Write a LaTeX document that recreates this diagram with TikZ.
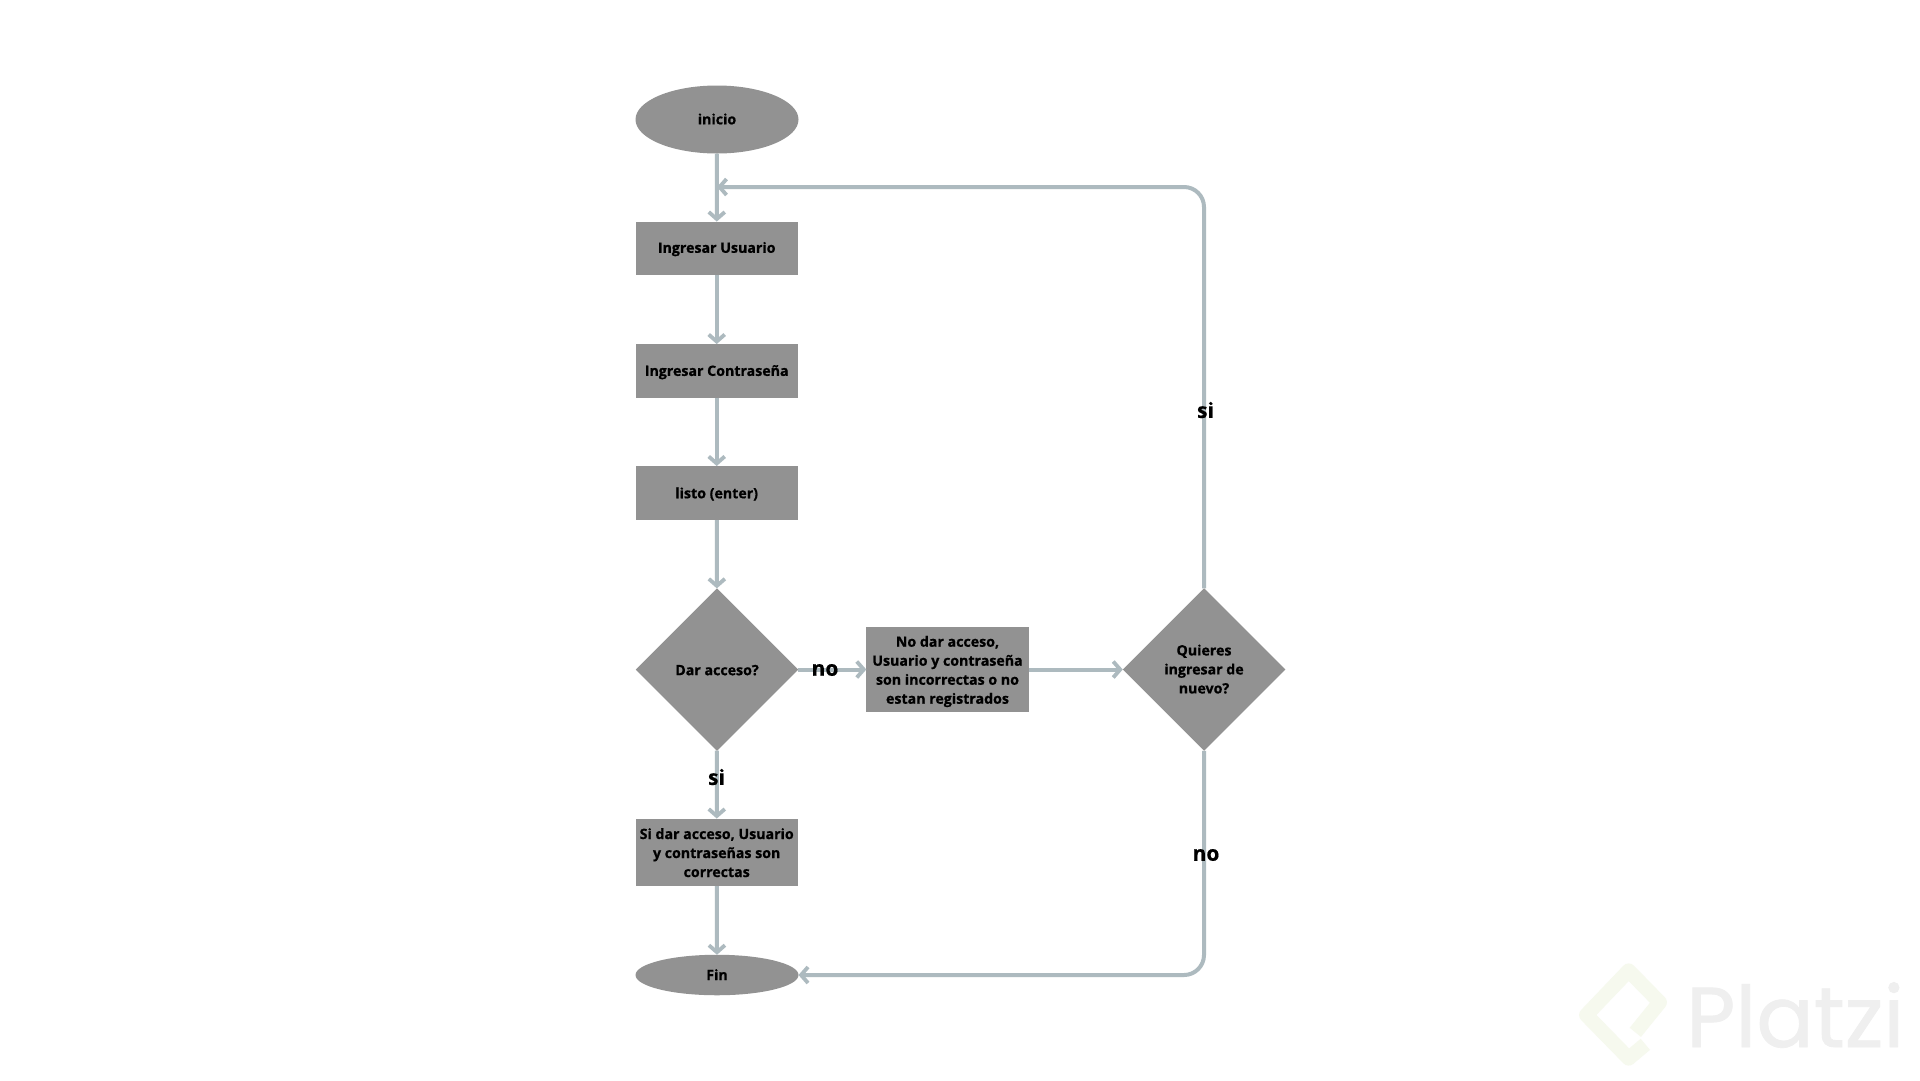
\documentclass[tikz,border=0pt]{standalone}
\usepackage{fontspec}
\setmainfont{Open Sans}
\newfontfamily\heavyfont[FakeBold=0.8]{Open Sans Bold}
\newfontfamily\heavylabel[FakeBold=0.5]{Open Sans Bold}
\newfontfamily\wmfont[FakeBold=0.8]{Poppins}
\usetikzlibrary{arrows.meta,shapes.geometric,positioning}
\definecolor{boxgray}{HTML}{929292}
\definecolor{linegray}{HTML}{ADBABF}
\definecolor{wmgreen}{HTML}{F6F9EE}
\definecolor{wmgray}{HTML}{EFEFEF}
\tikzset{
  base/.style={fill=boxgray,draw=none,inner sep=0pt,outer sep=0pt},
  txt/.style={inner sep=0pt,outer sep=0pt,align=center,text=black,
    font=\fontsize{14.2}{19}\heavyfont},
  boxnode/.style={base,rectangle,minimum width=162.4pt},
  oval/.style={base,ellipse,minimum width=163pt},
  decision/.style={base,diamond,aspect=1,minimum width=162.5pt,minimum height=162.5pt},
  conn/.style={draw=linegray,line width=4pt,-{Straight Barb[length=7pt,width=16pt,line width=3.8pt]}},
  lbl/.style={inner sep=0pt,text=black,font=\fontsize{21}{24}\heavylabel}
}
\begin{document}
\begin{tikzpicture}[x=1pt,y=-1pt]
\useasboundingbox (0,0) rectangle (1920,1080);
\fill[white] (0,0) rectangle (1920,1080);

% watermark
\begin{scope}[shift={(1558,939)},x=0.3333pt,y=-0.3333pt]
\draw[wmgreen,line width=14.5pt,line join=round]
  (232,280) -- (305,190) -- (212,95) -- (85,228) -- (212,358) -- (262,316);
\end{scope}
\node[anchor=base west,inner sep=0pt,text=wmgray,font=\fontsize{85}{90}\wmfont] (wm) at (1686,1047) {Platzi};

% nodes
\node[oval,minimum height=68pt,label={[txt,yshift=0.5pt]center:inicio}] (inicio) at (717,119.5) {};
\node[boxnode,minimum height=53.5pt,label={[txt,yshift=-0.8pt]center:Ingresar Usuario}] (usuario) at (716.7,248.3) {};
\node[boxnode,minimum height=53.5pt,label={[txt,yshift=-1.4pt]center:Ingresar Contraseña}] (contra) at (716.7,370.8) {};
\node[boxnode,minimum height=54pt,label={[txt,yshift=-1pt]center:listo (enter)}] (listo) at (716.7,493) {};
\node[decision,label={[txt,yshift=-0.6pt]center:Dar acceso?}] (dar) at (717,669.5) {};
\node[boxnode,minimum height=85pt,label={[txt,yshift=-2pt]center:{No dar acceso,\\Usuario y contraseña\\son incorrectas o no\\estan registrados}}] (nodar) at (947.5,669.5) {};
\node[decision,label={[txt,yshift=0.4pt]center:{Quieres\\ingresar de\\nuevo?}}] (quieres) at (1204,669.5) {};
\node[boxnode,minimum height=67.5pt,label={[txt,yshift=-0.4pt]center:{Si dar acceso, Usuario\\y contraseñas son\\correctas}}] (sidar) at (716.7,852.3) {};
\node[oval,minimum height=40.5pt,label={[txt,yshift=0.4pt]center:Fin}] (fin) at (717,975) {};
\coordinate (merge) at (717,187);

% connectors
\draw[conn] (inicio) -- (usuario);
\draw[conn] (usuario) -- (contra);
\draw[conn] (contra) -- (listo);
\draw[conn] (listo) -- (dar);
\draw[conn] (dar) -- (nodar);
\draw[conn] (nodar) -- (quieres);
\draw[conn] (dar) -- (sidar);
\draw[conn] (sidar) -- (fin);
\draw[conn,rounded corners=20pt] (quieres.north) |- (merge);
\draw[conn,rounded corners=20pt] (quieres.south) |- (fin.east);

% labels
\node[lbl] (lno1) at (825,670) {no};
\node[lbl] (lsi1) at (716.5,777) {si};
\node[lbl] (lsi2) at (1205.5,410) {si};
\node[lbl] (lno2) at (1206,855) {no};
\end{tikzpicture}
\end{document}
